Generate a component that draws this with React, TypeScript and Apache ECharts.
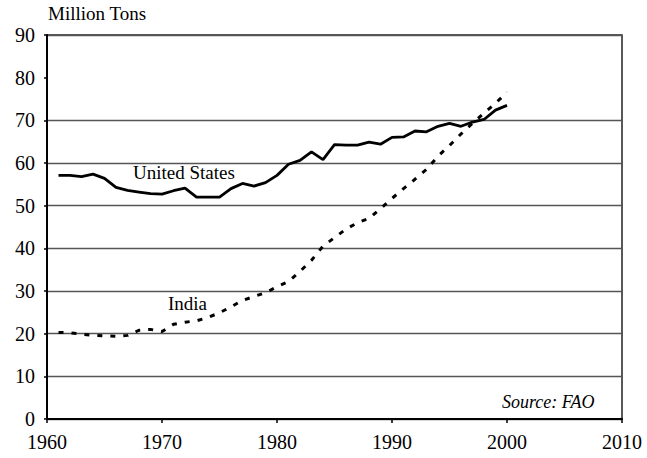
import React, { useEffect, useRef } from "react";
import * as echarts from "echarts";

const years = [
  1961, 1962, 1963, 1964, 1965, 1966, 1967, 1968, 1969, 1970,
  1971, 1972, 1973, 1974, 1975, 1976, 1977, 1978, 1979, 1980,
  1981, 1982, 1983, 1984, 1985, 1986, 1987, 1988, 1989, 1990,
  1991, 1992, 1993, 1994, 1995, 1996, 1997, 1998, 1999, 2000,
];

const unitedStates = [
  57.1, 57.1, 56.8, 57.4, 56.4, 54.3, 53.6, 53.2, 52.8, 52.7,
  53.5, 54.1, 52.0, 52.0, 52.0, 54.0, 55.2, 54.6, 55.4, 57.1,
  59.7, 60.6, 62.6, 60.8, 64.3, 64.2, 64.2, 64.9, 64.4, 66.0,
  66.1, 67.5, 67.3, 68.6, 69.3, 68.6, 69.6, 70.2, 72.4, 73.5,
];

const india = [
  20.3, 20.2, 19.9, 19.6, 19.5, 19.4, 19.6, 20.8, 21.0, 20.5,
  22.2, 22.7, 23.0, 23.8, 24.9, 26.3, 27.8, 28.7, 29.6, 31.0,
  32.2, 34.6, 37.2, 40.5, 42.5, 44.5, 46.0, 47.0, 49.3, 51.7,
  54.0, 56.2, 58.5, 61.6, 64.1, 66.8, 69.3, 71.7, 74.0, 76.6,
];

const xTicks = { min: 1960, max: 2010, interval: 10 };
const yTicks = { min: 0, max: 90, interval: 10 };

const FONT = "Liberation Serif";

export default function App() {
  const ref = useRef<HTMLDivElement>(null);

  useEffect(() => {
    if (!ref.current) return;
    const chart = echarts.init(ref.current, null, { renderer: "svg" });
    const gridColors = ["#555", "#555", "#555", "#555", "#555", "#555", "#555", "#555", "transparent", "#555"];
    chart.setOption({
      animation: false,
      backgroundColor: "#fff",
      grid: {
        left: 47,
        right: 25,
        top: 35,
        bottom: 39,
        show: true,
        borderColor: "#222",
        borderWidth: 1.5,
        backgroundColor: "transparent",
      },
      xAxis: {
        type: "value",
        min: xTicks.min,
        max: xTicks.max,
        interval: xTicks.interval,
        axisLine: { show: true, onZero: false, lineStyle: { color: "#000", width: 2 } },
        axisTick: { show: true, inside: false, length: 4, lineStyle: { color: "#000", width: 1.5 } },
        axisLabel: {
          margin: 15,
          color: "#000",
          fontFamily: FONT,
          fontSize: 20,
          lineHeight: 16,
          formatter: (v: number) => String(v),
        },
        splitLine: { show: false },
      },
      yAxis: {
        type: "value",
        min: yTicks.min,
        max: yTicks.max,
        interval: yTicks.interval,
        axisLine: { show: true, lineStyle: { color: "#000", width: 2 } },
        axisTick: { show: true, inside: false, length: 3, lineStyle: { color: "#000", width: 1.5 } },
        axisLabel: {
          margin: 12,
          color: "#000",
          fontFamily: FONT,
          fontSize: 20,
          lineHeight: 16,
        },
        splitLine: { show: true, lineStyle: { color: gridColors, width: 1.3 } },
      },
      series: [
        {
          name: "United States",
          type: "line",
          data: years.map((y, i) => [y, unitedStates[i]]),
          showSymbol: false,
          symbol: "none",
          lineStyle: { color: "#000", width: 2.8 },
          z: 5,
        },
        {
          name: "India",
          type: "line",
          data: years.map((y, i) => [y, india[i]]),
          showSymbol: false,
          symbol: "none",
          lineStyle: { color: "#000", width: 3, type: [5, 8], cap: "butt" },
          z: 4,
        },
      ],
      graphic: [
        {
          type: "text",
          left: 48,
          top: 4,
          style: { text: "Million Tons", fill: "#000", fontFamily: FONT, fontSize: 19 },
        },
        {
          type: "text",
          left: 133,
          top: 163,
          style: { text: "United States", fill: "#000", fontFamily: FONT, fontSize: 19 },
        },
        {
          type: "text",
          left: 168,
          top: 294,
          style: { text: "India", fill: "#000", fontFamily: FONT, fontSize: 19 },
        },
        {
          type: "text",
          left: 502,
          top: 393,
          style: { text: "Source: FAO", fill: "#000", fontFamily: FONT, fontSize: 18, fontStyle: "italic" },
        },
      ],
    });
    return () => chart.dispose();
  }, []);

  return <div ref={ref} style={{ width: 647, height: 458, position: "absolute", left: 0, top: 0 }} />;
}
